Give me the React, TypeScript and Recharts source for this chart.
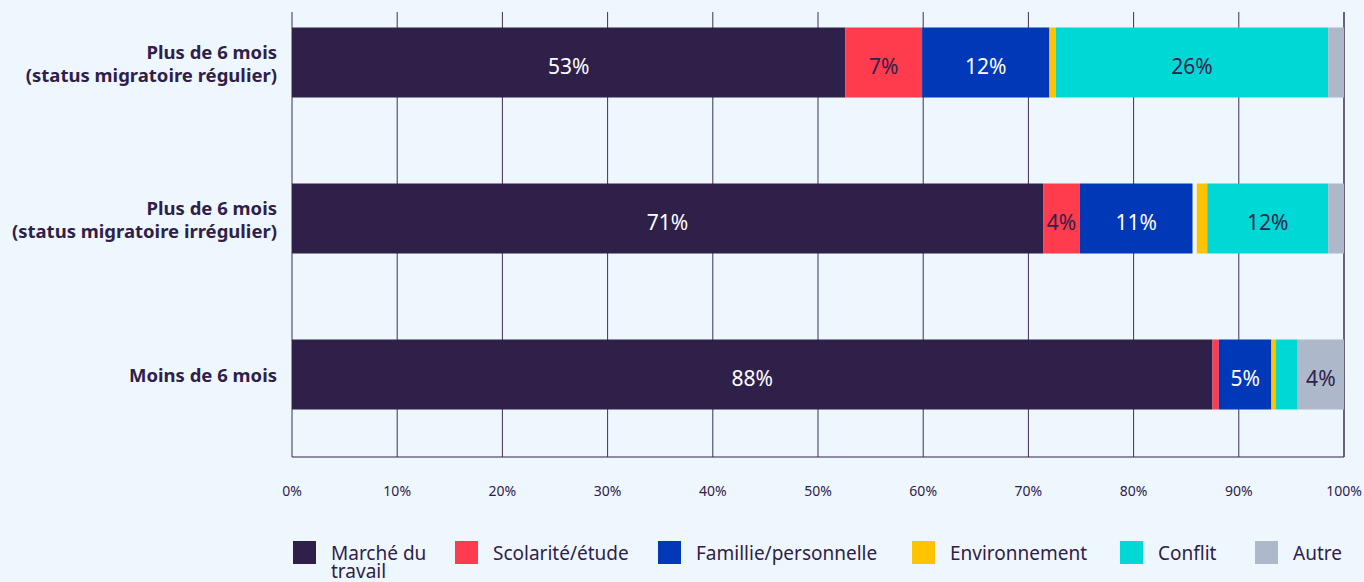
import React from 'react';
import { BarChart, Bar, XAxis, YAxis, CartesianGrid, Legend, LabelList } from 'recharts';

// ---- Data ----
const categories = [
  'Plus de 6 mois\n(status migratoire régulier)',
  'Plus de 6 mois\n(status migratoire irrégulier)',
  'Moins de 6 mois',
];
const marcheTravail = [52.6, 71.4, 87.5];
const scolarite = [7.3, 3.5, 0.6];
const famille = [12.1, 10.7, 5.0];
const nonPrecise = [0, 0.4, 0];
const environnement = [0.6, 1.0, 0.4];
const conflit = [25.9, 11.5, 2.1];
const autre = [1.5, 1.5, 4.4];
const xTicks = [0, 10, 20, 30, 40, 50, 60, 70, 80, 90, 100];

const data = categories.map((name, i) => ({
  name,
  marche: marcheTravail[i],
  scolarite: scolarite[i],
  famille: famille[i],
  nonPrecise: nonPrecise[i],
  environnement: environnement[i],
  conflit: conflit[i],
  autre: autre[i],
}));

// ---- Styles ----
const DARK = '#2f204a';
const BG = '#eff7fe';
const FONT = '"Noto Sans", sans-serif';

const series = [
  { key: 'marche', name: 'Marché du travail', color: DARK, text: '#ffffff', legend: true },
  { key: 'scolarite', name: 'Scolarité/étude', color: '#ff3b4e', text: DARK, legend: true },
  { key: 'famille', name: 'Famillie/personnelle', color: '#0038b8', text: '#ffffff', legend: true },
  { key: 'nonPrecise', name: 'Non précisé', color: 'transparent', text: DARK, legend: false },
  { key: 'environnement', name: 'Environnement', color: '#ffc300', text: DARK, legend: true },
  { key: 'conflit', name: 'Conflit', color: '#00d8d6', text: DARK, legend: true },
  { key: 'autre', name: 'Autre', color: '#adb8cb', text: DARK, legend: true },
];

const legendWidths = [162, 203, 254, 208, 135, 90];

const makeLabel = (color: string) => (props: any) => {
  const { x, y, width, height, value } = props;
  if (value == null || value < 3) return null;
  return (
    <text
      x={x + width / 2}
      y={y + height / 2 + 3}
      textAnchor="middle"
      dominantBaseline="central"
      fill={color}
      fontSize={21}
      fontFamily={FONT}
    >
      {Math.round(value)}%
    </text>
  );
};

const YTick = (props: any) => {
  const { x, y, payload } = props;
  const lines = String(payload.value).split('\n');
  const lh = 23;
  const start = -((lines.length - 1) * lh) / 2;
  return (
    <text x={x} y={y} textAnchor="end" fill={DARK} fontSize={18.5} fontWeight={700} fontFamily={FONT}>
      {lines.map((l, i) => (
        <tspan key={i} x={x} y={y + start + i * lh} dominantBaseline="central">
          {l}
        </tspan>
      ))}
    </text>
  );
};

const LegendContent = () => {
  const items = series.filter((s) => s.legend);
  return (
    <div style={{ display: 'flex', paddingLeft: 293, paddingTop: 3, fontFamily: FONT, color: DARK }}>
      {items.map((s, i) => (
        <div key={s.key} style={{ width: legendWidths[i], display: 'flex', alignItems: 'flex-start', flexShrink: 0 }}>
          <span style={{ width: 23, height: 23, background: s.color, flexShrink: 0, marginRight: 15 }} />
          <span
            style={{
              fontSize: 19,
              lineHeight: '18px',
              marginTop: 3,
              whiteSpace: i === 0 ? 'normal' : 'nowrap',
              width: i === 0 ? 110 : undefined,
            }}
          >
            {s.name}
          </span>
        </div>
      ))}
    </div>
  );
};

export default function App() {
  return (
    <div style={{ position: 'absolute', left: 0, top: 0, width: 1364, height: 582, background: BG, fontFamily: FONT }}>
      <BarChart
        width={1364}
        height={582}
        data={data}
        layout="vertical"
        margin={{ top: 12, right: 20, bottom: 0, left: 0 }}
        barSize={70}
      >
        <CartesianGrid horizontal={false} vertical={true} stroke="#3b3156" strokeWidth={1} />
        <XAxis
          type="number"
          domain={[0, 100]}
          ticks={xTicks}
          tickFormatter={(v: number) => `${v}%`}
          tickLine={false}
          tickSize={0}
          tickMargin={29}
          height={81}
          axisLine={{ stroke: DARK, strokeWidth: 1 }}
          tick={{ fill: DARK, fontSize: 14, fontFamily: FONT }}
          interval={0}
        />
        <YAxis
          type="category"
          dataKey="name"
          width={292}
          tickLine={false}
          axisLine={false}
          tickSize={0}
          tickMargin={15}
          tick={<YTick />}
          padding={{ top: -27.5, bottom: 4.5 }}
          interval={0}
        />
        <Legend
          verticalAlign="bottom"
          content={<LegendContent />}
          wrapperStyle={{ left: 0, width: 1364, height: 44 }}
        />
        {series.map((s) => (
          <Bar
            key={s.key}
            dataKey={s.key}
            name={s.name}
            stackId="a"
            fill={s.color}
            isAnimationActive={false}
            legendType={s.legend ? 'square' : 'none'}
          >
            <LabelList dataKey={s.key} content={makeLabel(s.text)} />
          </Bar>
        ))}
      </BarChart>
    </div>
  );
}
